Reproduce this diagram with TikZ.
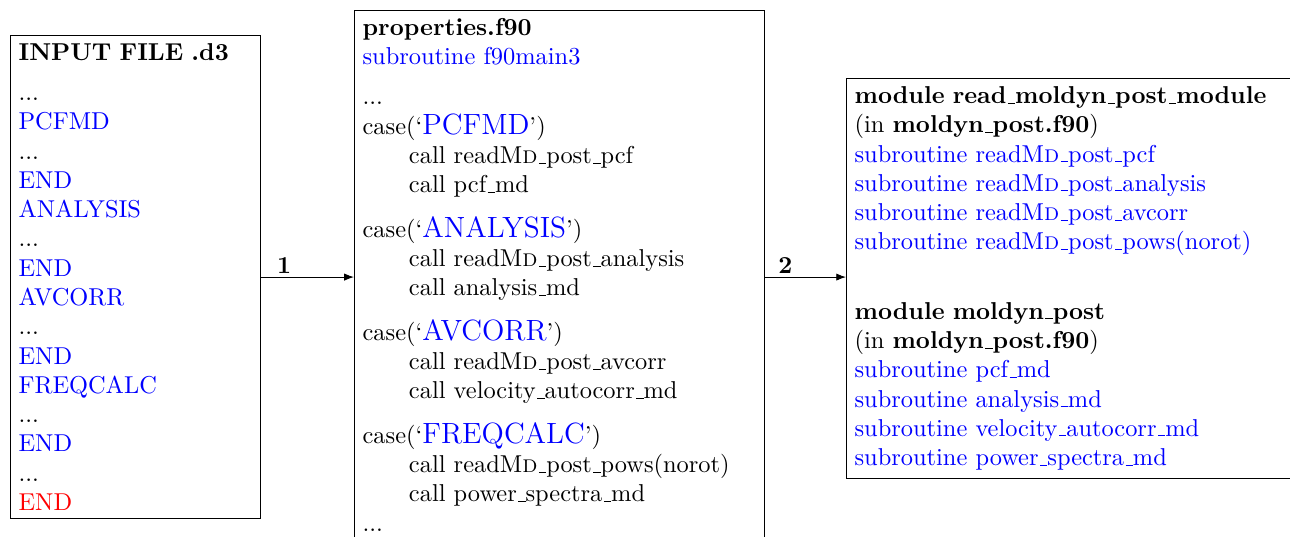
\documentclass[tikz,border=0pt]{standalone}
\usetikzlibrary{arrows.meta}
\renewcommand{\_}{\leavevmode\kern.06em\vbox{\hrule width.3em}}
\begin{document}
\begin{tikzpicture}[x=0.4098pt,y=-0.4098pt,
  box/.style={draw=black,line width=0.4pt,align=left,anchor=north west,inner sep=3.33pt,font=\normalsize},
  arr/.style={-{Latex[length=4pt,width=3pt]},line width=0.4pt},
  lbl/.style={above,inner sep=1.2pt,font=\bfseries}]
\clip (0,0) rectangle (1290,537);
\node[box,text width=95.8pt] (inp) at (10,35) {%
\textbf{INPUT FILE .d3}\\[4.4pt]
...\\
{\color{blue}PCFMD}\\
...\\
{\color{blue}END}\\
{\color{blue}ANALYSIS}\\
...\\
{\color{blue}END}\\
{\color{blue}AVCORR}\\
...\\
{\color{blue}END}\\
{\color{blue}FREQCALC}\\
...\\
{\color{blue}END}\\
...\\
{\color{red}END}};
\node[box,text width=161.4pt] (mid) at (354,10) {%
\textbf{properties.f90}\\
{\color{blue}subroutine f90main3}\\[4.4pt]
...\\
case(`{\large\color{blue}PCFMD}')\\
\hspace*{19pt}call readM\textsc{d}\_post\_pcf\\
\hspace*{19pt}call pcf\_md\\[6.2pt]
case(`{\large\color{blue}ANALYSIS}')\\
\hspace*{19pt}call readM\textsc{d}\_post\_analysis\\
\hspace*{19pt}call analysis\_md\\[6.2pt]
case(`{\large\color{blue}AVCORR}')\\
\hspace*{19pt}call readM\textsc{d}\_post\_avcorr\\
\hspace*{19pt}call velocity\_autocorr\_md\\[6.2pt]
case(`{\large\color{blue}FREQCALC}')\\
\hspace*{19pt}call readM\textsc{d}\_post\_pows(norot)\\
\hspace*{19pt}call power\_spectra\_md\\
...\\[14pt]
\mbox{}};
\node[box,text width=220pt] (mods) at (846,78) {%
\textbf{module read\_moldyn\_post\_module}\\
(in \textbf{moldyn\_post.f90})\\
{\color{blue}subroutine readM\textsc{d}\_post\_pcf}\\
{\color{blue}subroutine readM\textsc{d}\_post\_analysis}\\
{\color{blue}subroutine readM\textsc{d}\_post\_avcorr}\\
{\color{blue}subroutine readM\textsc{d}\_post\_pows(norot)}\\[16.4pt]
\textbf{module moldyn\_post}\\
(in \textbf{moldyn\_post.f90})\\
{\color{blue}subroutine pcf\_md}\\
{\color{blue}subroutine analysis\_md}\\
{\color{blue}subroutine velocity\_autocorr\_md}\\
{\color{blue}subroutine power\_spectra\_md}};
\draw[arr] (inp.east) -- node[lbl,near start] {1} (inp.east -| mid.west);
\draw[arr] (inp.east -| mid.east) -- node[lbl,near start] {2} (inp.east -| mods.west);
\end{tikzpicture}
\end{document}
